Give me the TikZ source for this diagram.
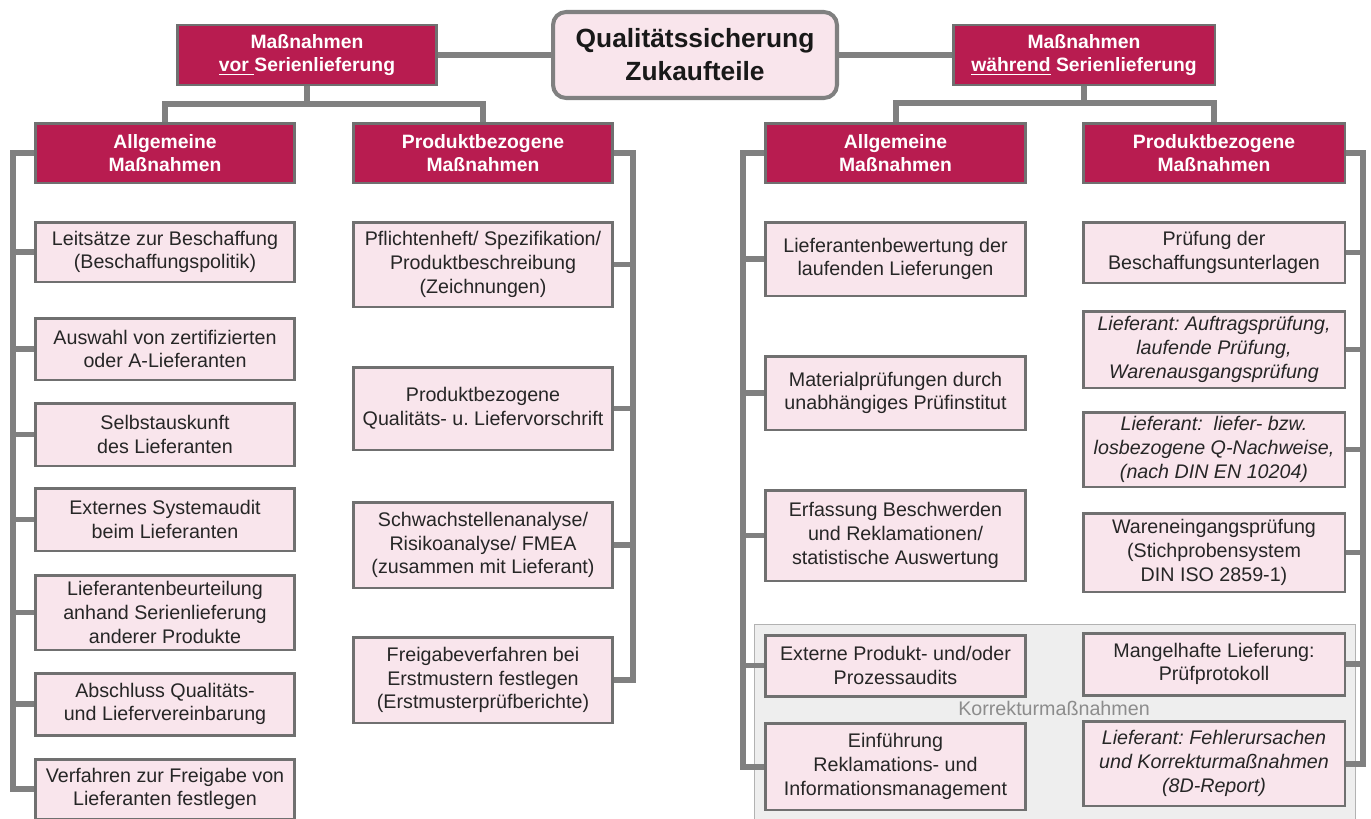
\documentclass[tikz,border=0pt]{standalone}
\usepackage{fontspec}
\setmainfont{Liberation Sans}
\usepackage{tikz}
\usetikzlibrary{calc}
\definecolor{qsred}{RGB}{184,28,80}
\definecolor{qspink}{RGB}{249,229,236}
\definecolor{qsline}{RGB}{128,128,128}
\definecolor{qsborder}{RGB}{112,112,112}
\definecolor{qspanel}{RGB}{238,238,238}
\frenchspacing

\begin{document}
\begin{tikzpicture}[
				x=0.02cm, y=-0.02cm,
				topbox/.style={rectangle, rounded corners=0.26cm, draw=qsline, line width=2.3pt, fill=qspink, minimum width=5.68cm, minimum height=1.72cm, align=center, text=black!90, font=\fontsize{15}{18.7}\selectfont\bfseries},
				hdbox/.style={rectangle, draw=qsborder, line width=1.7pt, fill=qsred, minimum width=5.2cm, minimum height=1.2cm, inner sep=0pt, align=center, text=white, font=\fontsize{11}{13}\selectfont\bfseries},
				itembox/.style={rectangle, draw=qsborder, line width=1.7pt, fill=qspink, minimum width=5.2cm, inner sep=0pt, align=center, text=black!85, font=\fontsize{11.2}{13.5}\selectfont},
				conn/.style={draw=qsline, line width=3.4pt},
				panel/.style={rectangle, draw=black!30, line width=0.6pt, fill=qspanel}
				]
				\useasboundingbox (0,0) rectangle (1371,818);
				
				% Background of the corrective actions
				\node (korr) [panel, minimum width=12.04cm, minimum height=4.12cm] at (1055,727) {};
				\node (korrlabel) [text=black!45, font=\fontsize{11.2}{13.5}\selectfont] at (1054,708) {Korrekturmaßnahmen};
				
				% Nodes
				\node (qs) [topbox] at (695,55) {Qualitätssicherung\\Zukaufteile};
				\node (vor) [hdbox] at (307,55) {Maßnahmen\\\underline{vor\ }Serienlieferung};
				\node (waehrend) [hdbox, minimum width=5.24cm] at (1084,55) {Maßnahmen\\\underline{während} Serienlieferung};
				\node (allgV) [hdbox] at (165,153) {Allgemeine\\Maßnahmen};
				\node (prodV) [hdbox] at (483,153) {Produktbezogene\\Maßnahmen};
				\node (allgW) [hdbox, minimum width=5.22cm] at (895.5,153) {Allgemeine\\Maßnahmen};
				\node (prodW) [hdbox, minimum width=5.24cm] at (1214,153) {Produktbezogene\\Maßnahmen};
				
				% vor Serienlieferung, allgemein
				\node (av1) [itembox, minimum height=1.2cm] at (165,252) {Leitsätze zur Beschaffung\\(Beschaffungspolitik)};
				\node (av2) [itembox, minimum height=1.24cm] at (165,349) {Auswahl von zertifizierten\\oder A-Lieferanten};
				\node (av3) [itembox, minimum height=1.26cm] at (165,434.5) {Selbstauskunft\\des Lieferanten};
				\node (av4) [itembox, minimum height=1.26cm] at (165,519.5) {Externes Systemaudit\\beim Lieferanten};
				\node (av5) [itembox, minimum height=1.5cm] at (165,612.5) {Lieferantenbeurteilung\\anhand Serienlieferung\\anderer Produkte};
				\node (av6) [itembox, minimum height=1.24cm] at (165,704) {Abschluss Qualitäts-\\und Liefervereinbarung};
				\node (av7) [itembox, minimum height=1.2cm] at (165,789) {Verfahren zur Freigabe von\\Lieferanten festlegen};
				
				% vor Serienlieferung, produktbezogen
				\node (pv1) [itembox, minimum height=1.7cm] at (483,264.5) {Pflichtenheft/ Spezifikation/\\Produktbeschreibung\\(Zeichnungen)};
				\node (pv2) [itembox, minimum height=1.66cm] at (483,408.5) {Produktbezogene\\Qualitäts- u. Liefervorschrift};
				\node (pv3) [itembox, minimum height=1.72cm] at (483,545) {Schwachstellenanalyse/\\Risikoanalyse/ FMEA\\(zusammen mit Lieferant)};
				\node (pv4) [itembox, minimum height=1.72cm] at (483,680) {Freigabeverfahren bei\\Erstmustern festlegen\\(Erstmusterprüfberichte)};
				
				% waehrend Serienlieferung, allgemein
				\node (aw1) [itembox, minimum width=5.22cm, minimum height=1.48cm] at (895.5,259) {Lieferantenbewertung der\\laufenden Lieferungen};
				\node (aw2) [itembox, minimum width=5.22cm, minimum height=1.48cm] at (895.5,393) {Materialprüfungen durch\\unabhängiges Prüfinstitut};
				\node (aw3) [itembox, minimum width=5.22cm, minimum height=1.82cm] at (895.5,535.5) {Erfassung Beschwerden\\und Reklamationen/\\statistische Auswertung};
				\node (aw4) [itembox, minimum width=5.22cm, minimum height=1.22cm] at (895.5,665.5) {Externe Produkt- und/oder\\Prozessaudits};
				\node (aw5) [itembox, minimum width=5.22cm, minimum height=1.74cm] at (895.5,766.5) {Einführung\\Reklamations- und\\Informationsmanagement};
				
				% waehrend Serienlieferung, produktbezogen
				\node (pw1) [itembox, minimum width=5.24cm, minimum height=1.22cm] at (1214,252.5) {Prüfung der\\Beschaffungsunterlagen};
				\node (pw2) [itembox, minimum width=5.24cm, minimum height=1.54cm] at (1214,349.5) {\itshape Lieferant: Auftragsprüfung,\\\itshape laufende Prüfung,\\\itshape Warenausgangsprüfung};
				\node (pw3) [itembox, minimum width=5.24cm, minimum height=1.5cm] at (1214,449.5) {\itshape Lieferant:\ \ liefer- bzw.\\\itshape losbezogene Q-Nachweise,\\\itshape (nach DIN EN 10204)};
				\node (pw4) [itembox, minimum width=5.24cm, minimum height=1.58cm] at (1214,552.5) {Wareneingangsprüfung\\(Stichprobensystem\\DIN ISO 2859-1)};
				\node (pw5) [itembox, minimum width=5.24cm, minimum height=1.24cm] at (1214,664) {Mangelhafte Lieferung:\\Prüfprotokoll};
				\node (pw6) [itembox, minimum width=5.24cm, minimum height=1.7cm] at (1214,763.5) {\itshape Lieferant: Fehlerursachen\\\itshape und Korrekturmaßnahmen\\\itshape (8D-Report)};
				
				% Bracket positions
				\coordinate (jv) at (307,104);
				\coordinate (jw) at (1084,103);
				\coordinate (xav) at (13,0);
				\coordinate (xpv) at (633,0);
				\coordinate (xaw) at (743,0);
				\coordinate (xpw) at (1363,0);
				
				% Connections
				\draw [conn] (vor) -- (qs);
				\draw [conn] (qs) -- (waehrend);
				\draw [conn] (vor.south) -- (jv);
				\draw [conn] (allgV.north) |- (jv) -| (prodV.north);
				\draw [conn] (waehrend.south) -- (jw);
				\draw [conn] (allgW.north) |- (jw) -| (prodW.north);
				
				\draw [conn] (allgV.west) -| (xav |- av7.west) -- (av7.west);
				\foreach \i in {1,...,6}
					\draw [conn] (av\i.west) -- (xav |- av\i.west);
				\draw [conn] (prodV.east) -| (xpv |- pv4.east) -- (pv4.east);
				\foreach \i in {1,...,3}
					\draw [conn] (pv\i.east) -- (xpv |- pv\i.east);
				\draw [conn] (allgW.west) -| (xaw |- aw5.west) -- (aw5.west);
				\foreach \i in {1,...,4}
					\draw [conn] (aw\i.west) -- (xaw |- aw\i.west);
				\draw [conn] (prodW.east) -| (xpw |- pw6.east) -- (pw6.east);
				\foreach \i in {1,...,5}
					\draw [conn] (pw\i.east) -- (xpw |- pw\i.east);
			\end{tikzpicture}
\end{document}
